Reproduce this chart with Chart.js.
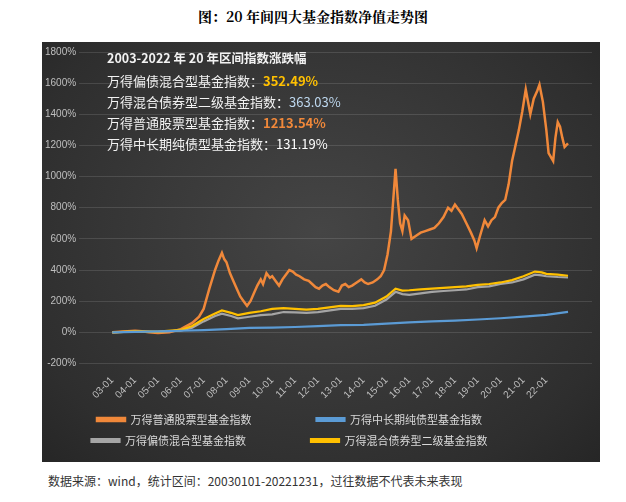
<!DOCTYPE html>
<html><head><meta charset="utf-8">
<script src="https://cdn.jsdelivr.net/npm/chart.js@4"></script>
<style>
body{margin:0;background:#fff;width:626px;height:502px;position:relative;font-family:"Noto Sans CJK SC",sans-serif;overflow:hidden}
#title{position:absolute;top:6px;left:0;width:626px;text-align:center;font-size:14px;font-weight:bold;font-family:"Noto Serif CJK SC","Noto Sans CJK SC",serif}
#panel{position:absolute;left:42px;top:42px;width:558px;height:420px;background:radial-gradient(ellipse at 50% 45%,#454545 0%,#2e2e2e 80%,#262626 100%)}
#src{position:absolute;left:48px;top:472px;font-size:12px;color:#333}
</style></head><body>
<div id="title">图：20 年间四大基金指数净值走势图</div>
<div id="panel"><canvas id="c" width="558" height="420"></canvas></div>
<div id="src">数据来源：wind，统计区间：20030101-20221231，过往数据不代表未来表现</div>
<script>
// [year, %] pairs
const stockData = [[2003,0],[2003.5,5],[2004,10],[2004.3,6],[2004.6,0],[2005,-5],[2005.5,0],[2006,20],[2006.5,60],[2006.8,100],[2007,150],[2007.25,280],[2007.5,400],[2007.65,460],[2007.8,510],[2007.9,470],[2008,450],[2008.15,380],[2008.3,330],[2008.45,280],[2008.6,230],[2008.75,200],[2008.9,170],[2009.05,200],[2009.2,250],[2009.35,300],[2009.5,340],[2009.6,310],[2009.75,380],[2009.9,350],[2010,360],[2010.15,330],[2010.3,300],[2010.45,340],[2010.6,370],[2010.75,400],[2010.9,390],[2011.05,370],[2011.2,360],[2011.4,340],[2011.6,330],[2011.75,310],[2011.9,290],[2012.05,280],[2012.2,300],[2012.35,310],[2012.5,290],[2012.7,270],[2012.9,260],[2013.05,300],[2013.2,310],[2013.35,290],[2013.5,300],[2013.7,320],[2013.9,340],[2014.05,320],[2014.2,310],[2014.4,320],[2014.6,340],[2014.75,360],[2014.9,400],[2015.05,500],[2015.2,650],[2015.3,850],[2015.4,1050],[2015.5,850],[2015.6,700],[2015.7,650],[2015.8,750],[2015.95,720],[2016.1,600],[2016.3,620],[2016.5,640],[2016.7,650],[2016.9,660],[2017.1,670],[2017.3,700],[2017.5,740],[2017.7,800],[2017.85,780],[2018,820],[2018.15,790],[2018.3,760],[2018.5,700],[2018.7,640],[2018.85,590],[2018.95,540],[2019.1,620],[2019.3,720],[2019.45,680],[2019.6,720],[2019.75,740],[2019.9,800],[2020.05,830],[2020.2,850],[2020.35,950],[2020.5,1100],[2020.65,1200],[2020.8,1300],[2020.95,1420],[2021.1,1560],[2021.2,1480],[2021.3,1400],[2021.45,1500],[2021.6,1550],[2021.7,1590],[2021.85,1480],[2022,1300],[2022.1,1150],[2022.3,1100],[2022.4,1250],[2022.5,1350],[2022.6,1320],[2022.7,1250],[2022.8,1190],[2022.95,1213]];
const mixedData = [[2003,0],[2004,5],[2005,2],[2006,10],[2006.5,30],[2007,70],[2007.5,105],[2007.8,120],[2008.2,105],[2008.5,90],[2009,100],[2009.5,110],[2010,115],[2010.5,130],[2011,128],[2011.5,125],[2012,130],[2013,150],[2013.5,150],[2014,155],[2014.5,170],[2015,210],[2015.4,260],[2015.7,245],[2016,240],[2016.5,250],[2017,260],[2017.5,265],[2018,270],[2018.5,275],[2019,290],[2019.5,295],[2020,310],[2020.5,320],[2021,340],[2021.5,370],[2021.8,365],[2022,360],[2022.5,355],[2022.95,352]];
const secondaryData = [[2003,0],[2004,6],[2005,4],[2006,15],[2006.5,40],[2007,85],[2007.5,120],[2007.8,140],[2008.2,125],[2008.5,110],[2009,125],[2009.5,135],[2010,150],[2010.5,155],[2011,150],[2011.5,145],[2012,150],[2013,170],[2013.5,168],[2014,175],[2014.5,190],[2015,230],[2015.4,280],[2015.7,268],[2016,270],[2016.5,275],[2017,280],[2017.5,285],[2018,290],[2018.5,295],[2019,305],[2019.5,310],[2020,320],[2020.5,335],[2021,360],[2021.5,390],[2021.8,385],[2022,375],[2022.5,370],[2022.95,363]];
const bondData = [[2003,0],[2004,3],[2005,6],[2006,10],[2007,14],[2008,20],[2009,28],[2010,30],[2011,34],[2012,40],[2013,46],[2014,48],[2015,55],[2016,64],[2017,70],[2018,75],[2019,82],[2020,90],[2021,100],[2022,112],[2022.95,131]];
const seriesNames = ['万得普通股票型基金指数','万得中长期纯债型基金指数','万得偏债混合型基金指数','万得混合债券型二级基金指数'];
const seriesColors = ['#f0883a','#5b9bd5','#a5a5a5','#ffc000'];
const yTicks = [-200,0,200,400,600,800,1000,1200,1400,1600,1800];
const notes = [
  ['2003-2022 年 20 年区间指数涨跌幅', null],
  ['万得偏债混合型基金指数：', '352.49%', '#ffc000'],
  ['万得混合债券型二级基金指数：', '363.03%', '#bdd7ee'],
  ['万得普通股票型基金指数：', '1213.54%', '#f0883a'],
  ['万得中长期纯债型基金指数：', '131.19%', '#ffffff']
];

const toXY = a => a.map(p => ({x: p[0], y: p[1]}));
const allData = [stockData, bondData, mixedData, secondaryData];

const notePlugin = {
  id: 'notes',
  afterDraw(chart) {
    const ctx = chart.ctx;
    ctx.save();
    ctx.textBaseline = 'middle';
    let y = 16;
    notes.forEach((n, i) => {
      ctx.font = (i === 0 ? 'bold 12.5px' : '13px') + ' "Noto Sans CJK SC"';
      ctx.fillStyle = '#f2f2f2';
      ctx.fillText(n[0], 65, y);
      if (n[1]) {
        const w = ctx.measureText(n[0]).width;
        ctx.font = (i === 3 || i === 1 ? 'bold ' : '') + '13px "Noto Sans CJK SC"';
        ctx.fillStyle = n[2];
        ctx.fillText(n[1], 65 + w, y);
      }
      y += i === 0 ? 23 : 21;
    });
    ctx.restore();
  }
};

new Chart(document.getElementById('c'), {
  type: 'line',
  data: {
    datasets: allData.map((d, i) => ({
      label: seriesNames[i] + '\u3000\u3000\u3000\u3000\u3000',
      data: toXY(d),
      borderColor: seriesColors[i],
      backgroundColor: seriesColors[i],
      borderWidth: i === 0 ? 2.5 : 2.2,
      pointRadius: 0,
      tension: 0,
      order: [4, 1, 3, 2][i]
    }))
  },
  options: {
    responsive: false,
    animation: false,
    layout: {padding: {top: 10, right: 8, left: 0, bottom: 6}},
    plugins: {
      legend: {
        position: 'bottom',
        labels: {color: '#d9d9d9', boxWidth: 28, boxHeight: 3, padding: 10, font: {size: 11, family: 'Noto Sans CJK SC'},
          sort: (a, b) => a.datasetIndex - b.datasetIndex}
      },
      tooltip: {enabled: false}
    },
    scales: {
      x: {
        type: 'linear', min: 2001.9, max: 2024.0,
        afterBuildTicks: ax => { ax.ticks = []; for (let yr = 2003; yr <= 2022; yr++) ax.ticks.push({value: yr}); },
        ticks: {color: '#bfbfbf', maxRotation: 45, minRotation: 45, autoSkip: false, font: {size: 10},
          callback: v => String(v % 100).padStart(2, '0') + '-01'},
        grid: {display: false},
        border: {display: false}
      },
      y: {
        min: -200, max: 1800,
        afterBuildTicks: ax => { ax.ticks = yTicks.map(v => ({value: v})); },
        ticks: {color: '#bfbfbf', font: {size: 10}, callback: v => v + '%'},
        grid: {color: 'rgba(255,255,255,0.12)'},
        border: {display: false}
      }
    }
  },
  plugins: [notePlugin]
});
</script>
</body></html>
